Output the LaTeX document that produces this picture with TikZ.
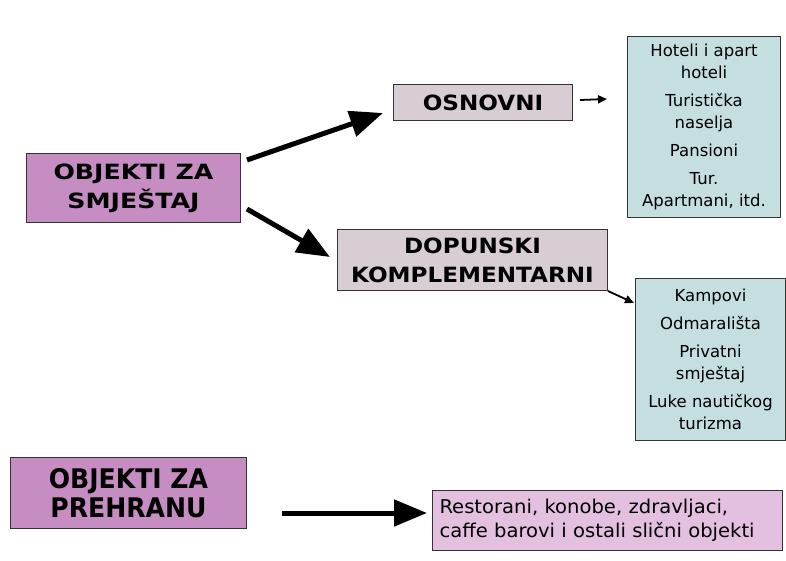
\documentclass[tikz,border=0pt]{standalone}
\usepackage{fontspec}
\setmainfont{DejaVu Sans}
\newfontfamily\hdA{DejaVu Sans}[FakeStretch=1.1]
\newfontfamily\hdB{DejaVu Sans}[FakeStretch=1.2]
\newfontfamily\hdC{DejaVu Sans}[FakeStretch=0.93]
\newfontfamily\resfont{DejaVu Sans}[FakeStretch=1.03]
\usetikzlibrary{arrows.meta}
\definecolor{purp}{HTML}{C58DC1}
\definecolor{mauve}{HTML}{D9CDD5}
\definecolor{teal1}{HTML}{C5DEE0}
\definecolor{pink1}{HTML}{E3C0DF}
\definecolor{edge}{HTML}{333333}
\tikzset{
  box/.style={draw=edge, line width=1pt, inner sep=0pt, anchor=north west, align=center},
  head/.style={font=\hdA\bfseries\fontsize{21}{29}\selectfont},
  headwide/.style={font=\hdB\bfseries\fontsize{21}{29}\selectfont},
  headtall/.style={font=\hdC\bfseries\fontsize{27}{29}\selectfont},
  item/.style={font=\fontsize{16.5}{22}\selectfont},
  big/.style={-{Triangle[length=33pt,width=26pt]}, line width=5pt},
  thin/.style={-{Triangle[length=9pt,width=8pt]}, line width=1.8pt}
}
\begin{document}
\begin{tikzpicture}[x=1pt,y=-1pt]
\useasboundingbox (0,0) rectangle (786,560);
\node[box, headwide, fill=purp, minimum width=214pt, minimum height=69pt] (smj) at (26,153) {OBJEKTI ZA\\SMJEŠTAJ};
\node[box, head, fill=mauve, minimum width=179pt, minimum height=36pt] (osn) at (393,84) {OSNOVNI};
\node[box, head, fill=mauve, minimum width=270pt, minimum height=61pt] (dop) at (337,229) {DOPUNSKI\\KOMPLEMENTARNI};
\node[box, item, fill=teal1, minimum width=153pt, minimum height=181pt] (l1) at (627,36)
  {Hoteli i apart\\hoteli\\[6pt]Turistička\\naselja\\[6pt]Pansioni\\[6pt]Tur.\\Apartmani, itd.};
\node[box, item, fill=teal1, minimum width=150pt, minimum height=162pt] (l2) at (635,278)
  {Kampovi\\[6pt]Odmarališta\\[6pt]Privatni\\smještaj\\[6pt]Luke nautičkog\\turizma};
\node[box, headtall, fill=purp, minimum width=236pt, minimum height=71pt] (pre) at (10,457) {OBJEKTI ZA\\PREHRANU};
\node[box, font=\resfont\fontsize{19}{24}\selectfont, fill=pink1, minimum width=350pt, minimum height=60pt, align=left, text width=336pt] (res) at (432,490)
  {Restorani, konobe, zdravljaci,\\caffe barovi i ostali slični objekti};
\coordinate (a1s) at (247,160);
\coordinate (a1e) at (383,113);
\coordinate (a2s) at (247,209);
\coordinate (a2e) at (330,257);
\coordinate (a3s) at (282,513);
\coordinate (a3e) at (427,513);
\coordinate (a4s) at (580,100);
\coordinate (a4e) at (607,99);
\coordinate (a5e) at (634,303);
\draw[big] (a1s) -- (a1e);
\draw[big] (a2s) -- (a2e);
\draw[big] (a3s) -- (a3e);
\draw[thin] (a4s) -- (a4e);
\draw[thin] (dop.south east) -- (a5e);
\end{tikzpicture}
\end{document}
